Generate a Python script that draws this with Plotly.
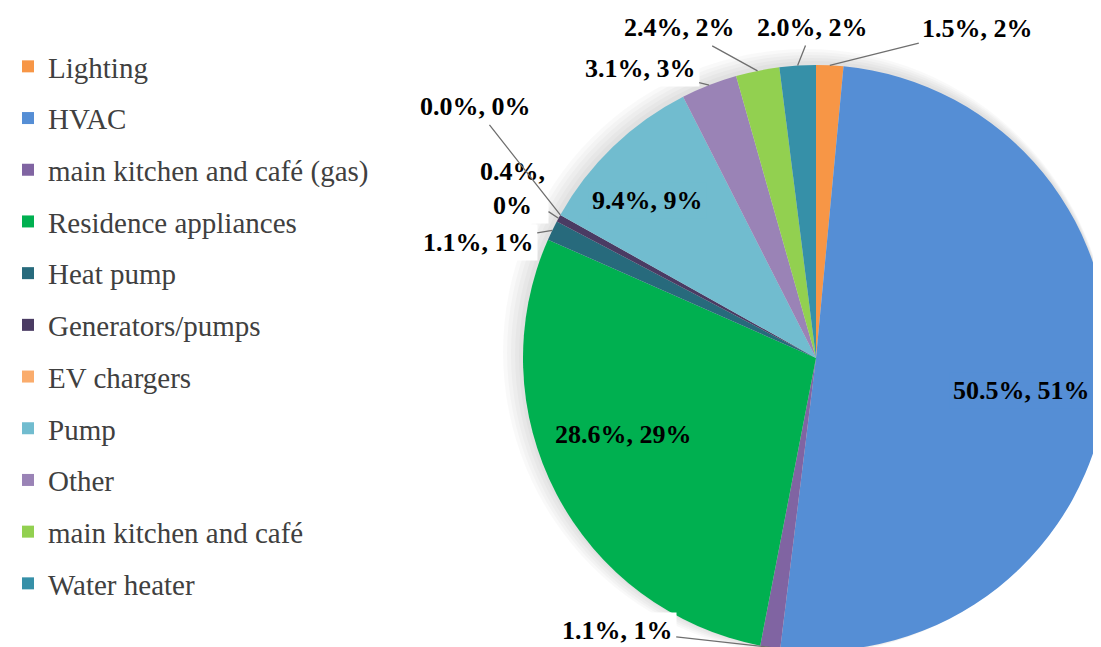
import math
import plotly.graph_objects as go

categories = ["Lighting", "HVAC", "main kitchen and café (gas)", "Residence appliances",
              "Heat pump", "Generators/pumps", "EV chargers", "Pump", "Other",
              "main kitchen and café", "Water heater"]
shares = [1.5, 50.5, 1.1, 28.6, 1.1, 0.4, 0.0, 9.4, 3.1, 2.4, 2.0]
rounded = [2, 51, 1, 29, 1, 0, 0, 9, 3, 2, 2]
colors = ["#F79646", "#558ED5", "#8064A2", "#00B050", "#276A7C", "#4A3B63",
          "#FAAC6C", "#71BCCF", "#9A83B6", "#92D050", "#3690A8"]

W, H = 1101, 647
CX, CY, R = 808, 350, 293   # pie centre / radius in figure pixels


def dom(cx, cy, r):
    return dict(x=[(cx - r) / W, (cx + r) / W], y=[(H - cy - r) / H, (H - cy + r) / H])


fig = go.Figure()

# soft shadow behind the pie
for dx, dy, rr in [(-10, -6, 303), (-8, -5, 301), (-6, -4, 299), (-4, -3, 297), (-2, -2, 295)]:
    fig.add_trace(go.Pie(values=[1], labels=[""], textinfo="none", hoverinfo="skip",
                         showlegend=False, sort=False,
                         marker=dict(colors=["rgba(0,0,0,0.025)"], line=dict(width=0)),
                         domain=dom(CX + dx, CY + dy, rr)))

fig.add_trace(go.Pie(
    labels=categories, values=shares, sort=False, direction="clockwise",
    rotation=0, marker=dict(colors=colors, line=dict(width=0)),
    textinfo="none", hoverinfo="label+percent", showlegend=False,
    domain=dom(CX, CY, R),
))

# legend entries (dummy traces so the item spacing can be set)
for i, (c, col) in enumerate(zip(categories, colors)):
    fig.add_trace(go.Scatter(x=[None], y=[None], mode="markers", name=c,
                             legendgroup=str(i),
                             marker=dict(symbol="square", size=16, color=col)))

# label placement: (inside?, radius fraction, pixel offset x, pixel offset y)
place = [
    (False, 1.0, 148, -37),
    (True, 0.704, 0, 10),
    (False, 1.0, -153, -17),
    (True, 0.717, -6, -21),
    (False, 1.0, -74, 12),
    (False, 1.0, -46, -30),
    (False, 1.0, -85, -108),
    (True, 0.785, -9, 8),
    (False, 1.0, -69, -17),
    (False, 1.0, -78, -43),
    (False, 1.0, 15, -38),
]

total = sum(shares)
cum = 0.0
font = dict(family="Liberation Serif, Times New Roman, serif", size=26, color="black")
for i, v in enumerate(shares):
    mid = (cum + v / 2) / total * 2 * math.pi
    cum += v
    inside, rf, ox, oy = place[i]
    px = CX + R * rf * math.sin(mid)
    py = CY - R * rf * math.cos(mid)
    txt = f"{v:.1f}%, {rounded[i]}%"
    if categories[i] == "Generators/pumps":
        txt = f"{v:.1f}%,<br>{rounded[i]}%"
    if inside:
        fig.add_annotation(x=px / W, y=1 - py / H, xref="paper", yref="paper",
                           text=f"<b>{txt}</b>", showarrow=False,
                           xanchor="center", yanchor="middle",
                           xshift=ox, yshift=-oy, font=font,
                           bgcolor=colors[i], borderpad=3)
    else:
        fig.add_annotation(x=px / W, y=1 - py / H, xref="paper", yref="paper",
                           text=f"<b>{txt}</b>", showarrow=True, arrowhead=0,
                           arrowwidth=1.3, arrowcolor="#6F6F6F", ax=ox, ay=oy,
                           font=font, bgcolor="white", borderpad=3)

fig.update_layout(
    width=W, height=H, margin=dict(l=0, r=0, t=0, b=0),
    paper_bgcolor="white", plot_bgcolor="white",
    xaxis=dict(visible=False), yaxis=dict(visible=False),
    legend=dict(x=0, y=0.949, xanchor="left", yanchor="top",
                traceorder="grouped", tracegroupgap=11, itemsizing="constant",
                font=dict(family="Liberation Serif, Times New Roman, serif",
                          size=29, color="#404040")),
)

fig.write_html("out.html")
